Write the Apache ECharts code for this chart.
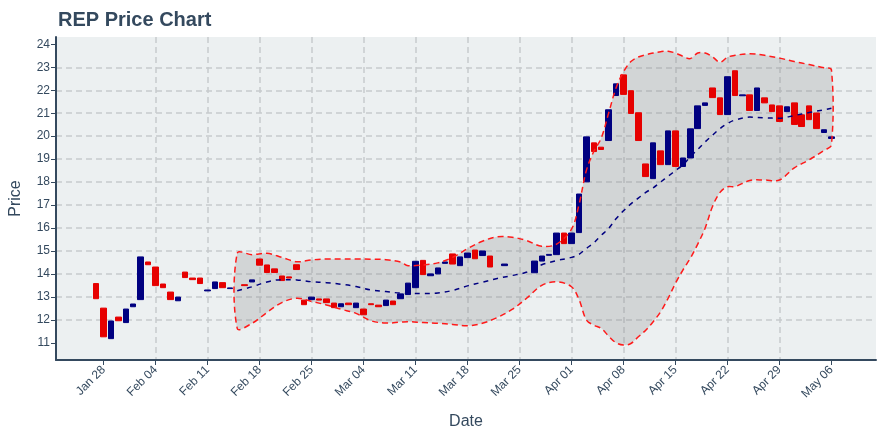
<!DOCTYPE html>
<html><head><meta charset="utf-8">
<script src="https://cdn.jsdelivr.net/npm/echarts@6/dist/echarts.min.js"></script>
<style>html,body{margin:0;padding:0;background:#fff}#c{width:880px;height:440px}</style>
</head><body><div id="c"></div>
<script>
const dates = [
 '2019-01-27','2019-01-28','2019-01-29','2019-01-30','2019-01-31','2019-02-01','2019-02-02',
 '2019-02-03','2019-02-04','2019-02-05','2019-02-06','2019-02-07','2019-02-08','2019-02-09',
 '2019-02-10','2019-02-11','2019-02-12','2019-02-13','2019-02-14','2019-02-16',
 '2019-02-17','2019-02-18','2019-02-19','2019-02-20','2019-02-21','2019-02-22','2019-02-23',
 '2019-02-24','2019-02-25','2019-02-26','2019-02-27','2019-02-28','2019-03-01','2019-03-02',
 '2019-03-03','2019-03-04','2019-03-05','2019-03-06','2019-03-07','2019-03-08','2019-03-09',
 '2019-03-10','2019-03-11','2019-03-12','2019-03-13','2019-03-14','2019-03-15','2019-03-16',
 '2019-03-17','2019-03-18','2019-03-19','2019-03-20','2019-03-21','2019-03-23',
 '2019-03-27','2019-03-28','2019-03-29','2019-03-30',
 '2019-03-31','2019-04-01','2019-04-02','2019-04-03','2019-04-04','2019-04-05','2019-04-06',
 '2019-04-07','2019-04-08','2019-04-09','2019-04-10','2019-04-11','2019-04-12','2019-04-13',
 '2019-04-14','2019-04-15','2019-04-16','2019-04-17','2019-04-18','2019-04-19','2019-04-20',
 '2019-04-21','2019-04-22','2019-04-23','2019-04-24','2019-04-25','2019-04-26','2019-04-27',
 '2019-04-28','2019-04-29','2019-04-30','2019-05-01','2019-05-02','2019-05-03','2019-05-04',
 '2019-05-05','2019-05-06'
];
const opens = [
 13.58,12.51,11.18,12.12,11.88,12.57,12.88,
 14.52,14.30,13.56,13.21,12.83,14.08,13.82,
 13.82,13.26,13.36,13.62,13.36,13.53,
 13.65,14.65,14.39,14.22,13.91,13.87,14.40,
 12.86,12.88,12.91,12.91,12.73,12.57,12.73,
 12.53,12.47,12.70,12.64,12.62,12.82,12.92,
 13.10,13.40,14.59,13.92,14.00,14.46,14.87,
 14.36,14.71,15.04,14.80,14.78,14.36,
 14.05,14.56,14.81,14.84,
 15.78,15.32,15.80,18.01,19.71,19.52,19.81,
 21.77,22.67,21.98,21.02,18.79,18.15,19.36,
 18.76,20.23,18.68,19.05,20.33,21.34,22.10,
 21.67,20.94,22.85,21.76,21.80,21.12,21.67,
 21.36,21.32,21.07,21.45,20.93,21.32,21.01,
 20.16,19.90
];
const closes = [
 12.92,11.26,11.95,11.96,12.47,12.69,14.74,
 14.40,13.49,13.40,12.88,12.99,13.84,13.75,
 13.58,13.30,13.65,13.40,13.39,13.49,
 13.74,14.38,14.06,14.06,13.71,13.82,14.19,
 12.66,12.99,12.86,12.75,12.53,12.70,12.66,
 12.73,12.22,12.66,12.57,12.86,12.66,13.13,
 13.60,14.55,13.97,14.00,14.26,14.52,14.43,
 14.74,14.91,14.66,15.00,14.30,14.43,
 14.56,14.78,14.85,15.78,
 15.32,15.78,17.48,19.97,19.33,19.42,21.15,
 22.28,21.82,20.99,19.81,18.24,19.71,18.76,
 20.23,18.68,19.05,20.32,21.32,21.45,21.68,
 20.94,22.59,21.77,21.80,21.12,22.10,21.45,
 21.07,20.64,21.28,20.51,20.42,20.72,20.33,
 20.28,19.97
];
const bandDates = [
 '2019-02-15','2019-02-17','2019-02-19','2019-02-21','2019-02-23','2019-02-25','2019-02-27',
 '2019-03-01','2019-03-03','2019-03-05','2019-03-07','2019-03-09','2019-03-10','2019-03-12',
 '2019-03-14','2019-03-16','2019-03-18','2019-03-20','2019-03-22','2019-03-24','2019-03-26',
 '2019-03-28','2019-03-30','2019-04-01','2019-04-02','2019-04-03','2019-04-04','2019-04-05',
 '2019-04-06','2019-04-07','2019-04-08','2019-04-09','2019-04-10','2019-04-11','2019-04-12',
 '2019-04-13','2019-04-14','2019-04-15','2019-04-16','2019-04-17','2019-04-18','2019-04-19',
 '2019-04-20','2019-04-21','2019-04-22','2019-04-23','2019-04-25','2019-04-27','2019-04-29',
 '2019-05-01','2019-05-03','2019-05-05','2019-05-06'
];
const upperBand = [
 14.90,14.84,14.90,14.72,14.53,14.61,14.65,
 14.65,14.65,14.64,14.62,14.52,14.36,14.39,
 14.48,14.72,15.10,15.42,15.62,15.60,15.45,
 15.20,15.30,15.95,17.00,18.50,19.33,19.91,
 21.00,22.10,22.80,23.25,23.45,23.55,23.62,
 23.68,23.70,23.62,23.48,23.38,23.62,23.62,
 23.45,23.22,23.44,23.52,23.59,23.52,23.40,
 23.25,23.12,22.98,22.89
];
const middleBand = [
 13.27,13.44,13.65,13.75,13.74,13.66,13.62,
 13.55,13.45,13.30,13.23,13.16,13.15,13.15,
 13.17,13.28,13.48,13.64,13.80,13.93,14.08,
 14.40,14.58,14.72,14.85,15.11,15.35,15.68,
 15.98,16.40,16.75,17.05,17.30,17.55,17.75,
 18.00,18.25,18.50,18.75,19.10,19.42,19.75,
 20.05,20.33,20.55,20.70,20.83,20.80,20.78,
 20.90,21.03,21.15,21.22
];
const lowerBand = [
 11.63,11.85,12.32,12.75,12.94,12.80,12.65,
 12.46,12.28,11.96,11.86,11.90,11.92,11.88,
 11.85,11.80,11.74,11.85,12.10,12.45,12.95,
 13.50,13.66,13.44,12.90,12.00,11.77,11.63,
 11.29,11.00,10.90,10.97,11.26,11.55,11.92,
 12.35,12.93,13.59,14.17,14.68,15.30,16.00,
 16.95,17.55,17.80,17.80,18.07,18.09,18.09,
 18.62,18.97,19.38,19.62
];
const xTickDates = ['2019-01-28','2019-02-04','2019-02-11','2019-02-18','2019-02-25','2019-03-04','2019-03-11','2019-03-18','2019-03-25','2019-04-01','2019-04-08','2019-04-15','2019-04-22','2019-04-29','2019-05-06'];
const xTickLabels = ['Jan 28','Feb 04','Feb 11','Feb 18','Feb 25','Mar 04','Mar 11','Mar 18','Mar 25','Apr 01','Apr 08','Apr 15','Apr 22','Apr 29','May 06'];
const yTicks = [11,12,13,14,15,16,17,18,19,20,21,22,23,24];

const DAY = 86400000;
const ORIGIN = Date.UTC(2019, 0, 28);
function dayNum(s) { const p = s.split('-'); return (Date.UTC(+p[0], +p[1] - 1, +p[2]) - ORIGIN) / DAY; }

const xTickVals = xTickDates.map(dayNum);
const candleData = dates.map((d, i) => [dayNum(d), opens[i], closes[i], Math.min(opens[i], closes[i]), Math.max(opens[i], closes[i])]);
const bx = bandDates.map(dayNum);
const upperData = bx.map((x, i) => [x, upperBand[i]]);
const lowerData = bx.map((x, i) => [x, lowerBand[i]]);
const midData = bx.map((x, i) => [x, middleBand[i]]);

const TXT = '#34495e';
const FONT = 'Liberation Sans, Arial, sans-serif';
const GRID = { color: '#c6cacd', type: [6, 4], width: 1.5 };
const SM = 0.35;

function bandPoints(api) {
  const up = upperData.map(p => api.coord(p));
  const lo = lowerData.slice().reverse().map(p => api.coord(p));
  return up.concat(lo);
}

const chart = echarts.init(document.getElementById('c'), null, { renderer: 'canvas' });
chart.setOption({
  animation: false,
  backgroundColor: '#ffffff',
  title: { text: 'REP Price Chart', left: 53, top: 5, textStyle: { fontSize: 20, fontWeight: 'bold', color: TXT, fontFamily: FONT } },
  grid: { left: 54, right: 4, top: 37, bottom: 80, show: true, backgroundColor: '#ecf0f1', borderWidth: 0 },
  xAxis: {
    type: 'value', min: -6.4, max: 104.0, minInterval: 7, maxInterval: 7, splitNumber: 15,
    name: 'Date', nameLocation: 'middle', nameGap: 54,
    nameTextStyle: { fontSize: 16, color: TXT, fontFamily: FONT },
    axisLine: { show: true, onZero: false, lineStyle: { color: TXT, width: 2 } },
    axisTick: { show: true, length: 5, customValues: xTickVals, lineStyle: { color: TXT, width: 1 } },
    axisLabel: { rotate: 45, fontSize: 12, color: TXT, fontFamily: FONT, margin: 8, customValues: xTickVals,
      formatter: v => { const i = xTickVals.findIndex(t => Math.abs(t - v) < 1e-6); return i >= 0 ? xTickLabels[i] : ''; } },
    splitLine: { show: true, showMinLine: false, showMaxLine: false, lineStyle: GRID }
  },
  yAxis: {
    type: 'value', min: 10.25, max: 24.32, minInterval: 1, maxInterval: 1, splitNumber: 14,
    name: 'Price', nameLocation: 'middle', nameGap: 32,
    nameTextStyle: { fontSize: 16, color: TXT, fontFamily: FONT },
    axisLine: { show: true, onZero: false, lineStyle: { color: TXT, width: 2 } },
    axisTick: { show: true, length: 5, customValues: yTicks, lineStyle: { color: TXT, width: 1 } },
    axisLabel: { fontSize: 12, color: TXT, fontFamily: FONT, margin: 6, customValues: yTicks,
      formatter: v => (yTicks.indexOf(v) >= 0 ? String(v) : '') },
    splitLine: { show: true, showMinLine: false, showMaxLine: false, lineStyle: GRID }
  },
  series: [
    { name: 'bandFill', type: 'custom', data: [[bx[0], lowerBand[0]]], silent: true, z: 1, clip: true,
      renderItem: (params, api) => ({ type: 'polygon', shape: { points: bandPoints(api), smooth: SM },
        style: { fill: 'rgba(128,128,128,0.24)', stroke: null } }) },
    { name: 'price', type: 'candlestick', data: candleData, encode: { x: 0, y: [1, 2, 3, 4] }, barWidth: 6, z: 3,
      itemStyle: { color: '#000080', color0: '#e60000', borderColor: '#000080', borderColor0: '#e60000', borderWidth: 1 } },
    { name: 'bandEdge', type: 'custom', data: [[bx[0], lowerBand[0]]], silent: true, z: 4, clip: true,
      renderItem: (params, api) => ({ type: 'polygon', shape: { points: bandPoints(api), smooth: SM },
        style: { fill: null, stroke: '#ff1a1a', lineWidth: 1.5, lineDash: [6, 4] } }) },
    { name: 'sma', type: 'line', data: midData, smooth: SM, symbol: 'none', z: 4,
      lineStyle: { color: '#000080', width: 1.5, type: [5, 5] } }
  ]
});
</script>
</body></html>
